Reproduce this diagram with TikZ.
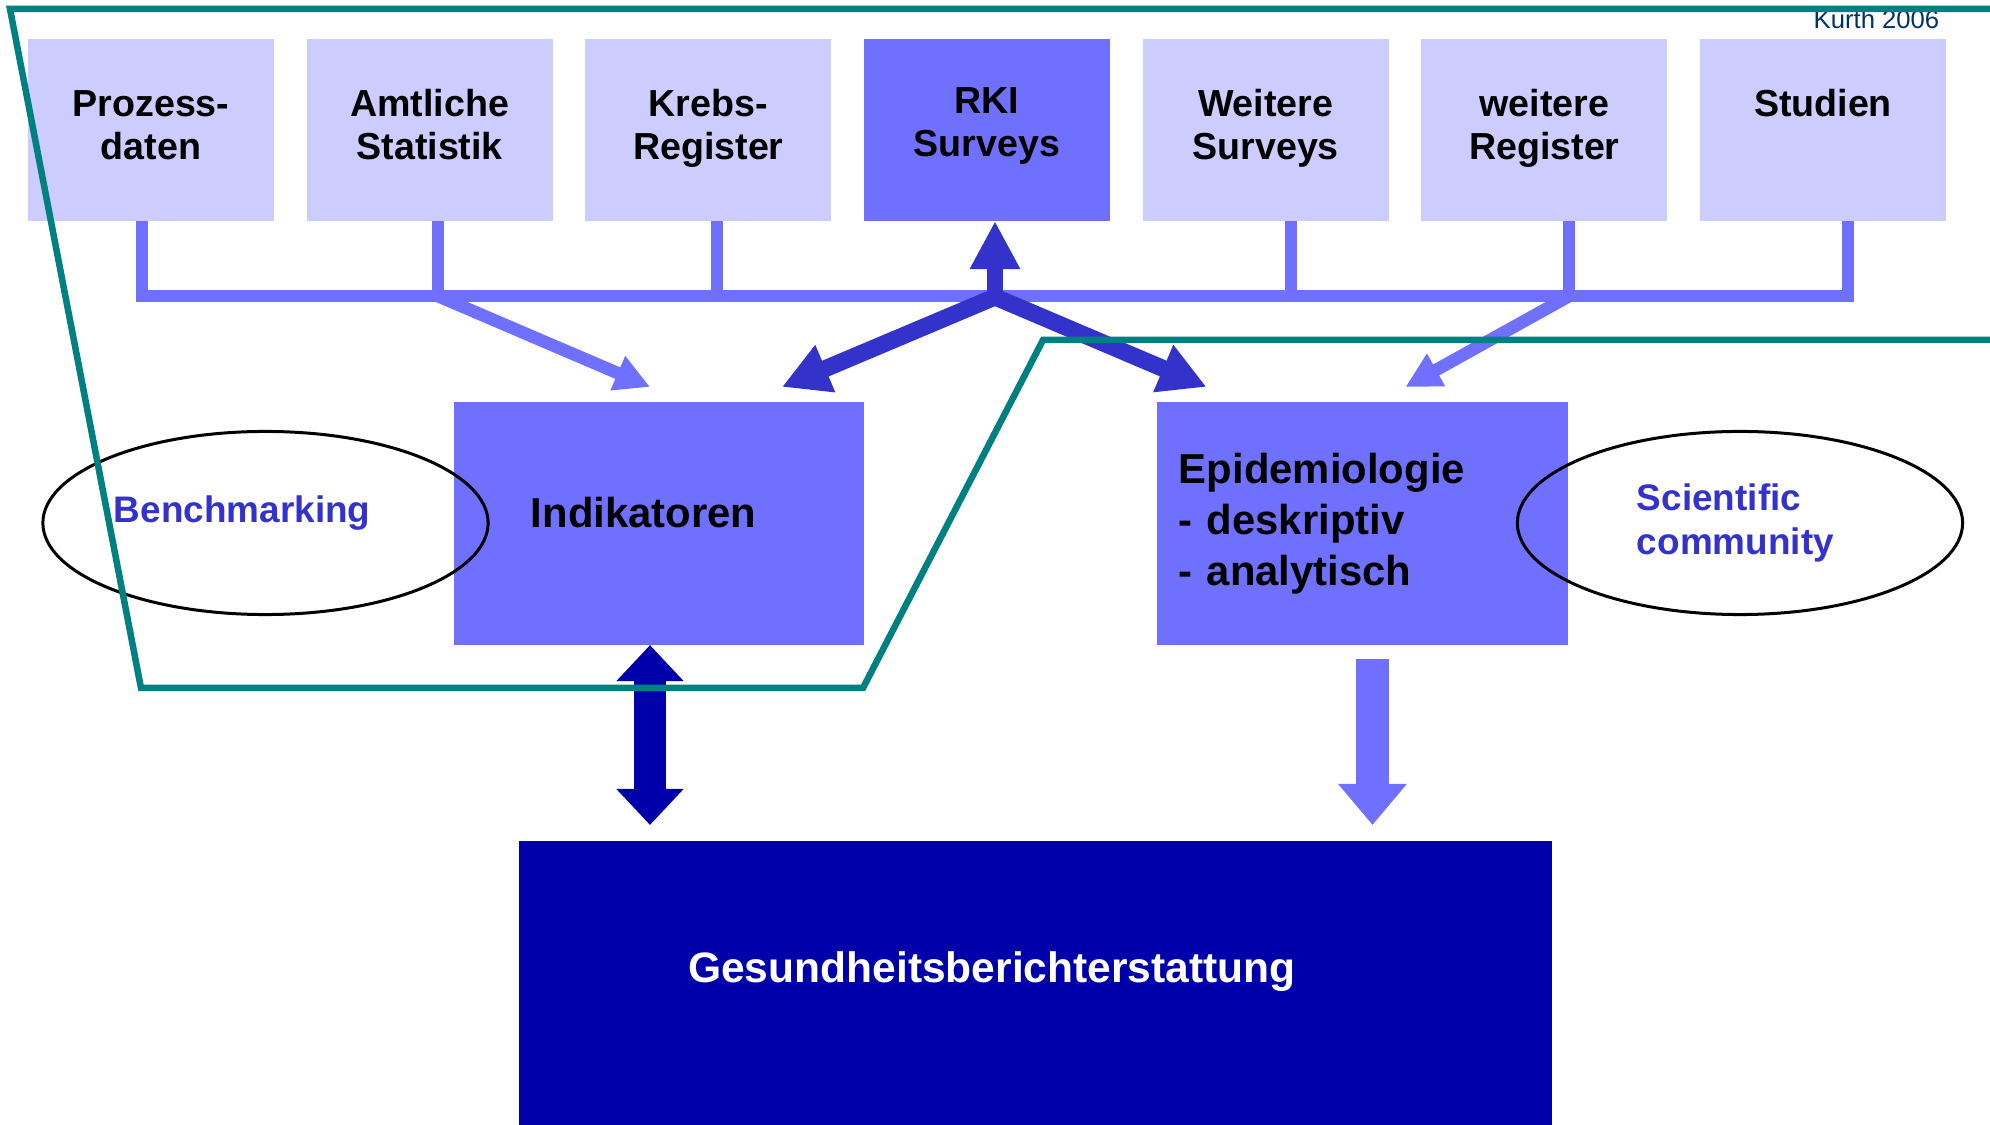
\documentclass[tikz,border=0pt]{standalone}
\usepackage{fontspec}
\setmainfont{Liberation Sans}
\usepackage{tikz}
\usetikzlibrary{positioning, arrows.meta, shapes.geometric, calc}

\definecolor{srcfill}{HTML}{CCCCFF}
\definecolor{boxfill}{HTML}{7070FF}
\definecolor{arrdark}{HTML}{3333CC}
\definecolor{gbefill}{HTML}{0000AA}
\definecolor{framecol}{HTML}{008080}
\definecolor{notecol}{HTML}{003366}

\begin{document}
\begin{tikzpicture}[
        x=0.01cm, y=-0.01cm,
        source/.style={fill=#1, minimum width=2.46cm, minimum height=1.82cm, inner sep=0pt, outer sep=0pt, align=center, text depth=0.105cm, font=\fontsize{10.7}{12.2}\selectfont\bfseries},
        source/.default=srcfill,
        stage/.style={fill=boxfill, minimum width=4.1cm, minimum height=2.43cm, inner ysep=0pt, outer sep=0pt, align=left, font=\fontsize{11.9}{14.5}\selectfont\bfseries},
        role/.style={draw, ellipse, line width=0.03cm, minimum width=4.45cm, minimum height=1.83cm, inner sep=0pt, align=left, text=arrdark, font=\fontsize{10.5}{12.5}\selectfont\bfseries},
        feed/.style={draw=boxfill, line width=0.12cm},
        feedarrow/.style={feed, line width=0.125cm, -{Triangle[length=0.35cm, width=0.35cm]}},
        rkiarrow/.style={draw=arrdark, line width=0.17cm, line join=miter, {Triangle[length=0.47cm, width=0.48cm]}-{Triangle[length=0.47cm, width=0.48cm]}},
    ]
    \useasboundingbox (0,0) rectangle (1990,1125);

    % Data sources
    \node[source] (prozess) at (151,130) {Prozess-\\daten};
    \node[source, right=0.325cm of prozess] (amtlich) {Amtliche\\Statistik};
    \node[source, right=0.325cm of amtlich] (krebs) {Krebs-\\Register};
    \node[source=boxfill, right=0.325cm of krebs, text depth=0.16cm] (rki) {RKI\\Surveys};
    \node[source, right=0.325cm of rki] (wsurv) {Weitere\\Surveys};
    \node[source, right=0.325cm of wsurv] (wreg) {weitere\\Register};
    \node[source, right=0.325cm of wreg] (studien) {Studien\\~};

    \node[font=\fontsize{7.3}{8.5}\selectfont, text=notecol, anchor=base east, inner sep=0pt] (kurth) at (1940,29) {Kurth 2006};

    % Collecting bus
    \coordinate (bus) at (0,296);
    \draw[feed] ([xshift=-0.09cm]prozess.south) |- ([xshift=0.25cm]studien.south |- bus) -- ([xshift=0.25cm]studien.south);
    \foreach \src/\dx in {amtlich/0.08, krebs/0.09, wsurv/0.25, wreg/0.25}
        \draw[feed] ([xshift=\dx cm]\src.south) -- ([xshift=\dx cm]\src.south |- bus);

    % Use of the data
    \node[stage, text width=2.56cm, inner xsep=0.77cm, text depth=0.22cm] (indik) at (659,523.5) {Indikatoren};
    \node[stage, text width=3.67cm, inner xsep=0.22cm] (epi) at (1362.5,523.5) {Epidemiologie\\- deskriptiv\\- analytisch};
    \node[fill=gbefill, text=white, anchor=north west, minimum height=2.84cm, inner xsep=1.69cm, inner ysep=0pt, outer sep=0pt, text width=6.94cm, align=left, text depth=0.32cm, font=\fontsize{12.1}{14}\selectfont\bfseries] (gbe) at (519,841) {Gesundheitsberichterstattung};

    \node[role, text width=3.03cm, text depth=0.27cm] (bench) at (265.5,523) {Benchmarking};
    \node[role, text width=2.06cm] (scicom) at (1740,523) {Scientific\\community};

    % Arrows
    \coordinate (jamt) at ([xshift=0.08cm]amtlich.south |- bus);
    \coordinate (jrki) at ([xshift=0.08cm]rki.south |- bus);
    \coordinate (jreg) at ([xshift=0.25cm]wreg.south |- bus);

    \draw[feedarrow] (jamt) -- ($(indik.north)+(-9,-15)$);
    \draw[feedarrow] (jreg) -- ($(epi.north)+(43,-15)$);
    \draw[rkiarrow] ($(indik.north)+(123,-15)$) -- ($(jrki)+(0,1)$) -- ($(epi.north)+(-156,-15)$);
    \draw[draw=arrdark, line width=0.15cm, -{Triangle[length=0.48cm, width=0.47cm]}] (jrki) -- (jrki |- rki.south);

    \draw[draw=gbefill, line width=0.32cm, {Triangle[length=0.36cm, width=0.65cm]}-{Triangle[length=0.36cm, width=0.65cm]}] ($(indik.south)+(-9,0)$) -- ($(indik.south |- gbe.north)+(-9,-16)$);
    \draw[draw=boxfill, line width=0.33cm, -{Triangle[length=0.41cm, width=0.66cm]}] ($(epi.south)+(10,14)$) -- ($(epi.south |- gbe.north)+(10,-16)$);

    % Frame
    \draw[framecol, line width=0.065cm] (1990,9) -- (10,9) -- (141,688) -- (863,688) -- (1043,340) -- (1990,340);
\end{tikzpicture}
\end{document}
